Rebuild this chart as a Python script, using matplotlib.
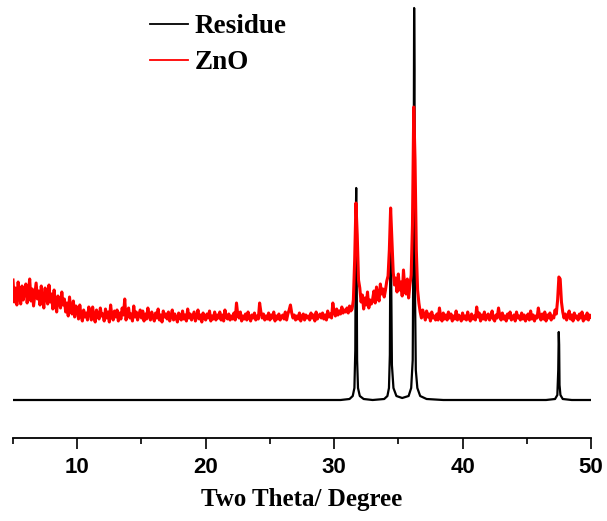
import numpy as np
import matplotlib
matplotlib.use('Agg')
import matplotlib.pyplot as plt

# two theta grid for the ZnO scan (0.1 degree steps)
two_theta = np.round(np.arange(5.0, 50.05, 0.1), 1)

# ZnO intensity, one row per degree (5.0 .. 49.9) plus the last point at 50.0
zno = [
    120, 98, 112, 95, 118, 104, 96, 114, 100, 110,   # 5
    116, 97, 108, 121, 99, 111, 94, 106, 117, 101,   # 6
    109, 95, 114, 100, 92, 112, 103, 96, 115, 98,    # 7
    106, 91, 110, 97, 88, 104, 99, 92, 108, 95,      # 8
    101, 88, 97, 84, 103, 90, 86, 99, 83, 94,        # 9
    92, 81, 95, 84, 79, 90, 83, 87, 80, 93,          # 10
    88, 80, 93, 83, 78, 90, 85, 81, 92, 84,          # 11
    86, 79, 91, 82, 88, 78, 95, 84, 80, 89,          # 12
    83, 90, 79, 87, 81, 92, 85, 101, 80, 88,         # 13
    92, 82, 86, 79, 94, 83, 88, 80, 85, 90,          # 14
    82, 89, 79, 86, 81, 92, 84, 80, 88, 83,          # 15
    79, 87, 82, 91, 80, 85, 78, 89, 83, 86,          # 16
    81, 88, 79, 84, 90, 80, 86, 82, 78, 87,          # 17
    83, 80, 89, 81, 85, 79, 91, 82, 86, 80,          # 18
    84, 88, 79, 83, 90, 81, 85, 78, 87, 82,          # 19
    80, 86, 82, 89, 79, 84, 81, 88, 80, 85,          # 20
    82, 88, 80, 85, 79, 90, 83, 81, 86, 80,          # 21
    84, 81, 87, 80, 97, 85, 82, 88, 79, 84,          # 22
    81, 86, 80, 88, 83, 79, 85, 82, 87, 80,          # 23
    84, 81, 97, 88, 82, 86, 80, 84, 81, 87,          # 24
    80, 85, 82, 88, 79, 84, 81, 86, 80, 83,          # 25
    85, 81, 88, 80, 86, 90, 95, 87, 82, 85,          # 26
    80, 84, 81, 87, 79, 83, 86, 80, 85, 82,          # 27
    84, 80, 87, 82, 85, 79, 88, 81, 84, 86,          # 28
    82, 87, 81, 85, 80, 89, 83, 86, 82, 97,          # 29
    88, 84, 91, 85, 89, 86, 93, 87, 90, 88,          # 30
    92, 87, 94, 89, 91, 100, 140, 197, 165, 120,     # 31
    112, 98, 105, 91, 102, 95, 108, 92, 100, 96,     # 32
    101, 109, 97, 113, 104, 99, 116, 106, 111, 103,  # 33
    110, 119, 124, 150, 192, 160, 128, 115, 122, 108,  # 34
    126, 110, 118, 104, 130, 112, 106, 121, 102, 115,  # 35
    125, 175, 293, 240, 150, 110, 97, 88, 82, 90,    # 36
    85, 80, 89, 83, 86, 79, 88, 82, 84, 80,          # 37
    86, 80, 92, 83, 79, 87, 81, 85, 80, 88,          # 38
    82, 86, 79, 84, 81, 89, 80, 85, 83, 79,          # 39
    87, 81, 84, 80, 88, 82, 79, 86, 81, 84,          # 40
    80, 93, 83, 87, 79, 85, 81, 88, 80, 84,          # 41
    86, 80, 83, 89, 81, 79, 85, 82, 92, 84,          # 42
    80, 87, 81, 84, 79, 86, 82, 88, 80, 83,          # 43
    85, 79, 88, 82, 84, 80, 87, 81, 85, 79,          # 44
    83, 86, 80, 89, 81, 85, 79, 84, 82, 92,          # 45
    84, 80, 86, 81, 88, 79, 85, 82, 87, 80,          # 46
    84, 82, 90, 86, 100, 123, 121, 98, 88, 82,       # 47
    86, 80, 84, 89, 81, 85, 79, 87, 82, 84,          # 48
    80, 86, 82, 88, 79, 84, 81, 87, 80, 85,          # 49
    83,                                              # 50
]

# residue pattern, read at the points where it changes
residue_x = [5.0, 30.5, 31.2, 31.45, 31.58, 31.65, 31.69, 31.72, 31.75, 31.79, 31.86, 32.0, 32.3, 33.0,
             33.9, 34.15, 34.27, 34.34, 34.38, 34.41, 34.44, 34.5, 34.62, 34.85, 35.3, 35.8,
             36.0, 36.12, 36.19, 36.23, 36.26, 36.29, 36.36, 36.48, 36.7, 37.2, 38.5,
             46.5, 47.2, 47.38, 47.45, 47.49, 47.52, 47.55, 47.62, 47.8, 48.5, 50.0]
residue_y = [0, 0, 1, 4, 12, 50, 180, 212, 150, 40, 12, 4, 1, 0,
             1, 4, 12, 45, 160, 185, 130, 35, 12, 4, 2, 4,
             12, 40, 200, 392, 330, 120, 30, 12, 4, 1, 0,
             0, 1, 5, 30, 68, 55, 15, 5, 1, 0, 0]

xticks = [10, 20, 30, 40, 50]

fig = plt.figure(figsize=(6.07, 5.21), dpi=100)
ax = fig.add_axes([13 / 607, 83 / 521, 578 / 607, 438 / 521])

ax.plot(residue_x, residue_y, color='black', lw=1.6, label='Residue')
ax.plot(two_theta, zno, color='red', lw=2.2, label='ZnO')

ax.set_xlim(5, 50)
ax.set_ylim(-38, 400)

# only the bottom axis is shown
for s in ['left', 'right', 'top']:
    ax.spines[s].set_visible(False)
ax.spines['bottom'].set_linewidth(1.3)
ax.set_yticks([])
ax.set_xticks(xticks)
ax.set_xticks([5, 15, 25, 35, 45], minor=True)
ax.tick_params(axis='x', which='major', direction='out', length=8, width=1.2, pad=6)
ax.tick_params(axis='x', which='minor', direction='out', length=4.5, width=1.2)
for lab in ax.get_xticklabels():
    lab.set_family(['Liberation Sans Narrow', 'Liberation Sans'])
    lab.set_fontweight('bold')
    lab.set_fontsize(16)

ax.set_xlabel('Two Theta/ Degree', family='Liberation Serif', fontweight='bold',
              fontsize=18, labelpad=7)

leg = ax.legend(loc='upper left', bbox_to_anchor=(150 / 607, 1 - 14 / 521),
                bbox_transform=fig.transFigure, frameon=False,
                prop={'family': 'Liberation Serif', 'weight': 'bold', 'size': 19.5},
                handlelength=1.4, handletextpad=0.25, labelspacing=0.42,
                borderpad=0, borderaxespad=0)
for line in leg.get_lines():
    line.set_linewidth(1.3)

fig.savefig('out.png', dpi=100)
